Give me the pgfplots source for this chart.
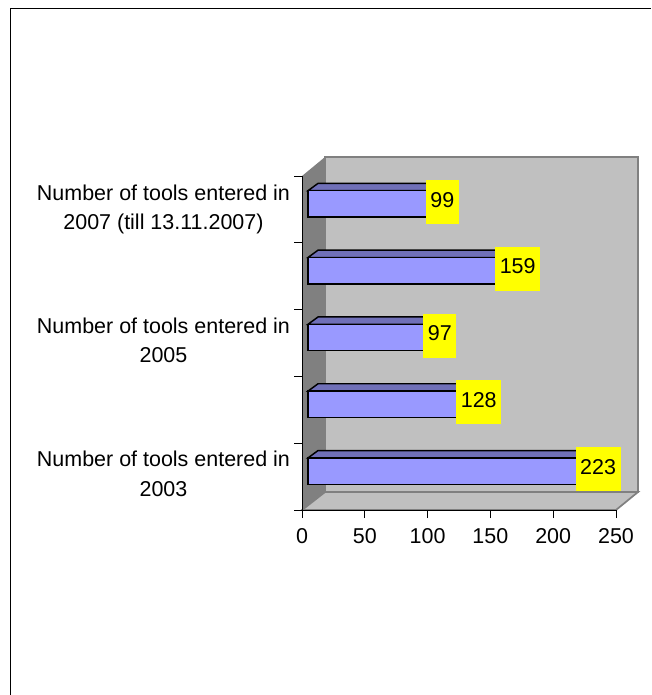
\documentclass[border=0pt]{standalone}
\usepackage{fontspec}
\setmainfont{Liberation Sans}
\usepackage{pgfplots}
\pgfplotsset{compat=1.18}
\definecolor{barfront}{HTML}{9999FF}
\definecolor{bartop}{HTML}{7070B8}
\definecolor{wallback}{HTML}{C0C0C0}
\definecolor{wallside}{HTML}{808080}
\definecolor{labelbox}{HTML}{FFFF00}
\begin{document}
\begin{tikzpicture}
  % page, frame and 3D walls, in reference pixels
  \begin{scope}[x=.75pt,y=-.75pt]
    \useasboundingbox (0,0) rectangle (651,695);
    \draw[black,line width=.9pt] (10.5,695) -- (10.5,8.5) -- (651,8.5);
    \fill[wallside] (302,176) -- (325,157) -- (325,492) -- (302,510) -- cycle;
    \draw[wallside,fill=wallback,line width=1.3pt] (325,157) rectangle (638,492);
    \draw[wallside,fill=wallback,line width=1.3pt] (302,510) -- (325,492) -- (638,492) -- (616,510) -- cycle;
  \end{scope}
  \begin{axis}[
    at={(226.5pt,-382.5pt)},
    anchor=origin,
    scale only axis,
    width=235.5pt,
    height=250.5pt,
    xmin=0, xmax=250,
    ymin=0, ymax=5,
    clip=false,
    axis x line*=bottom,
    axis y line*=left,
    axis line style={black,line width=.6pt,-},
    tick style={black,line width=.6pt},
    tick align=outside,
    major tick length=6pt,
    xtick={0,50,100,150,200,250},
    ytick={0,1,2,3,4,5},
    yticklabels={},
    extra y ticks={0.5,2.5,4.46},
    extra y tick labels={{Number of tools entered in\\2003},{Number of tools entered in\\2005},{Number of tools entered in\\2007 (till 13.11.2007)}},
    extra y tick style={major tick length=0pt,
      yticklabel style={align=center,font=\fontsize{16.1pt}{22pt}\selectfont,xshift=-5.5pt,yshift=2pt}},
    /pgf/number format/assume math mode=true,
    tick label style={font=\fontsize{16.1pt}{22pt}\selectfont},
    xticklabel style={yshift=-4pt},
    every axis plot/.append style={xshift=4.5pt,mark=none},
  ]
    % top faces of the bars: x = 0, 0+d, value+d, value
    \addplot[fill=bartop,draw=black,line width=1.1pt] coordinates {(0,0.78)(8,0.89)(231,0.89)(223,0.78)} -- cycle;
    \addplot[fill=bartop,draw=black,line width=1.1pt] coordinates {(0,1.78)(8,1.89)(136,1.89)(128,1.78)} -- cycle;
    \addplot[fill=bartop,draw=black,line width=1.1pt] coordinates {(0,2.78)(8,2.89)(105,2.89)(97,2.78)} -- cycle;
    \addplot[fill=bartop,draw=black,line width=1.1pt] coordinates {(0,3.78)(8,3.89)(167,3.89)(159,3.78)} -- cycle;
    \addplot[fill=bartop,draw=black,line width=1.1pt] coordinates {(0,4.78)(8,4.89)(107,4.89)(99,4.78)} -- cycle;
    % front faces and value labels
    \addplot[xbar,bar width=0.395,bar shift=0.083,fill=barfront,draw=black,line width=1.1pt,
      point meta=x,
      nodes near coords,
      every node near coord/.append style={
        anchor=center,xshift=7.5pt,yshift=5.5pt,
        fill=labelbox,draw=none,text=black,
        font=\fontsize{16.1pt}{18pt}\selectfont,
        /pgf/number format/assume math mode=true,
        inner xsep=3.4pt,inner ysep=0pt,
        text height=20.25pt,text depth=12.75pt,
      },
    ] coordinates {(223,0.5)(128,1.5)(97,2.5)(159,3.5)(99,4.5)};
  \end{axis}
\end{tikzpicture}
\end{document}
